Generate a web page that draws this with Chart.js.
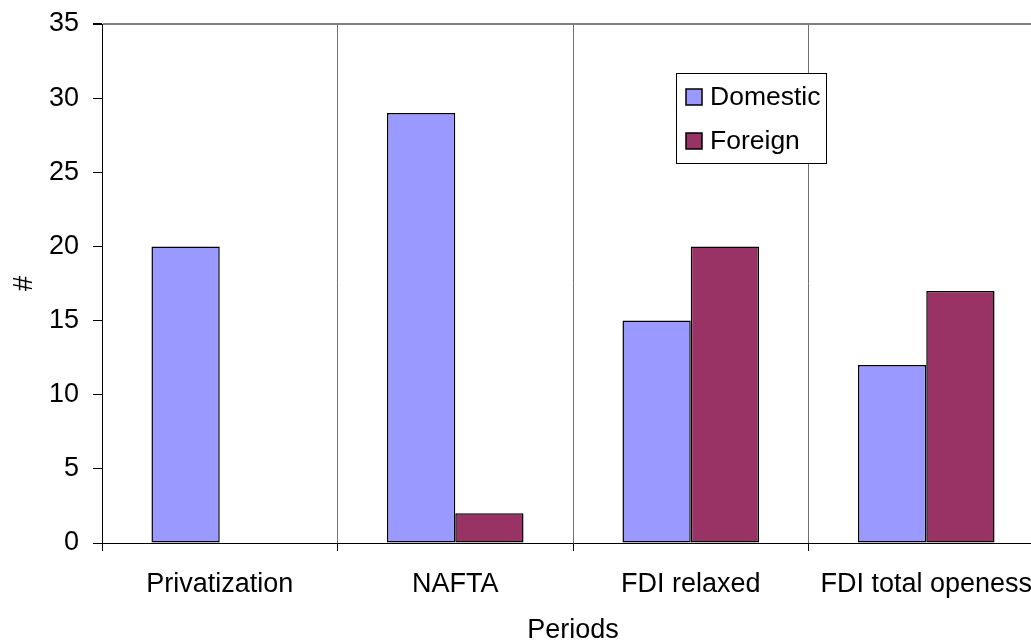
<!DOCTYPE html>
<html>
<head>
<meta charset="utf-8">
<script src="https://cdn.jsdelivr.net/npm/chart.js@4/dist/chart.umd.min.js"></script>
<style>
  html, body { margin: 0; padding: 0; background: #ffffff; overflow: hidden; }
  #wrap { width: 1044px; height: 641px; }
</style>
</head>
<body>
<div id="wrap"><canvas id="c" width="1044" height="641"></canvas></div>
<script>
// Number of enterprises per period, by ownership
const periods = ['Privatization', 'NAFTA', 'FDI relaxed', 'FDI total openess'];
const domestic = [20, 29, 15, 12];
const foreign = [null, 2, 20, 17];
const seriesNames = ['Domestic', 'Foreign'];
const yTicks = [0, 5, 10, 15, 20, 25, 30, 35];

const FONT = "'Liberation Sans', Arial, sans-serif";

// Boxed legend drawn inside the plot area
const boxedLegend = {
  id: 'boxedLegend',
  afterDraw(chart) {
    const ctx = chart.ctx;
    const x = 676, y = 73, w = 150, h = 90;
    ctx.save();
    ctx.fillStyle = '#ffffff';
    ctx.fillRect(x, y, w, h);
    ctx.strokeStyle = '#000000';
    ctx.lineWidth = 1;
    ctx.strokeRect(x + 0.5, y + 0.5, w, h);
    ctx.font = '26.5px ' + FONT;
    ctx.textBaseline = 'middle';
    ctx.textAlign = 'left';
    const rows = [97, 141];
    chart.data.datasets.forEach((ds, i) => {
      const cy = rows[i];
      ctx.fillStyle = ds.backgroundColor;
      ctx.fillRect(686, cy - 8, 16, 16);
      ctx.strokeStyle = '#000000';
      ctx.lineWidth = 1.5;
      ctx.strokeRect(686, cy - 8, 16, 16);
      ctx.fillStyle = '#000000';
      ctx.fillText(ds.label, 710, cy + 1);
    });
    ctx.restore();
  }
};

// Keep the plot area edges fixed: no extra room for overhanging labels
function noEdgePadding(scale) {
  scale.paddingLeft = 0;
  scale.paddingRight = 0;
  scale.paddingTop = 0;
  scale.paddingBottom = 0;
}

new Chart(document.getElementById('c'), {
  type: 'bar',
  data: {
    labels: periods,
    datasets: [
      { label: seriesNames[0], data: domestic, backgroundColor: '#9999FF', borderColor: '#000000', borderWidth: 1.5, borderSkipped: false },
      { label: seriesNames[1], data: foreign, backgroundColor: '#993366', borderColor: '#000000', borderWidth: 1.5, borderSkipped: false }
    ]
  },
  options: {
    responsive: false,
    animation: false,
    devicePixelRatio: 1,
    categoryPercentage: 0.58,
    barPercentage: 1.0,
    layout: { padding: { top: 24, left: 0, right: 0, bottom: 0 } },
    plugins: { legend: { display: false }, tooltip: { enabled: false } },
    scales: {
      x: {
        offset: true,
        grid: {
          offset: true,
          color: '#707070',
          lineWidth: 1,
          tickColor: '#000000',
          tickLength: 8,
          drawTicks: true
        },
        border: { display: true, color: '#000000', width: 1 },
        ticks: { color: '#000000', font: { family: FONT, size: 27 }, padding: 17, maxRotation: 0, autoSkip: false },
        title: { display: true, text: 'Periods', color: '#000000', font: { family: FONT, size: 27, lineHeight: 0.8 }, padding: { top: 0, bottom: 0 } },
        afterFit(scale) { scale.height = 98; noEdgePadding(scale); }
      },
      y: {
        min: 0,
        max: 35,
        afterBuildTicks(scale) { scale.ticks = yTicks.map(v => ({ value: v })); },
        grid: {
          color: (c) => (c.tick && c.tick.value === 35) ? '#808080' : 'rgba(0,0,0,0)',
          lineWidth: (c) => (c.tick && c.tick.value === 35) ? 2 : 1,
          tickColor: '#000000',
          tickLength: 9,
          drawTicks: true
        },
        border: { display: true, color: '#000000', width: 1 },
        ticks: { color: '#000000', font: { family: FONT, size: 27 }, padding: 14 },
        title: { display: true, text: '#', color: '#000000', font: { family: FONT, size: 27, lineHeight: 1 }, padding: { top: 11, bottom: 0 } },
        afterFit(scale) { scale.width = 102; noEdgePadding(scale); }
      }
    }
  },
  plugins: [boxedLegend]
});
</script>
</body>
</html>
